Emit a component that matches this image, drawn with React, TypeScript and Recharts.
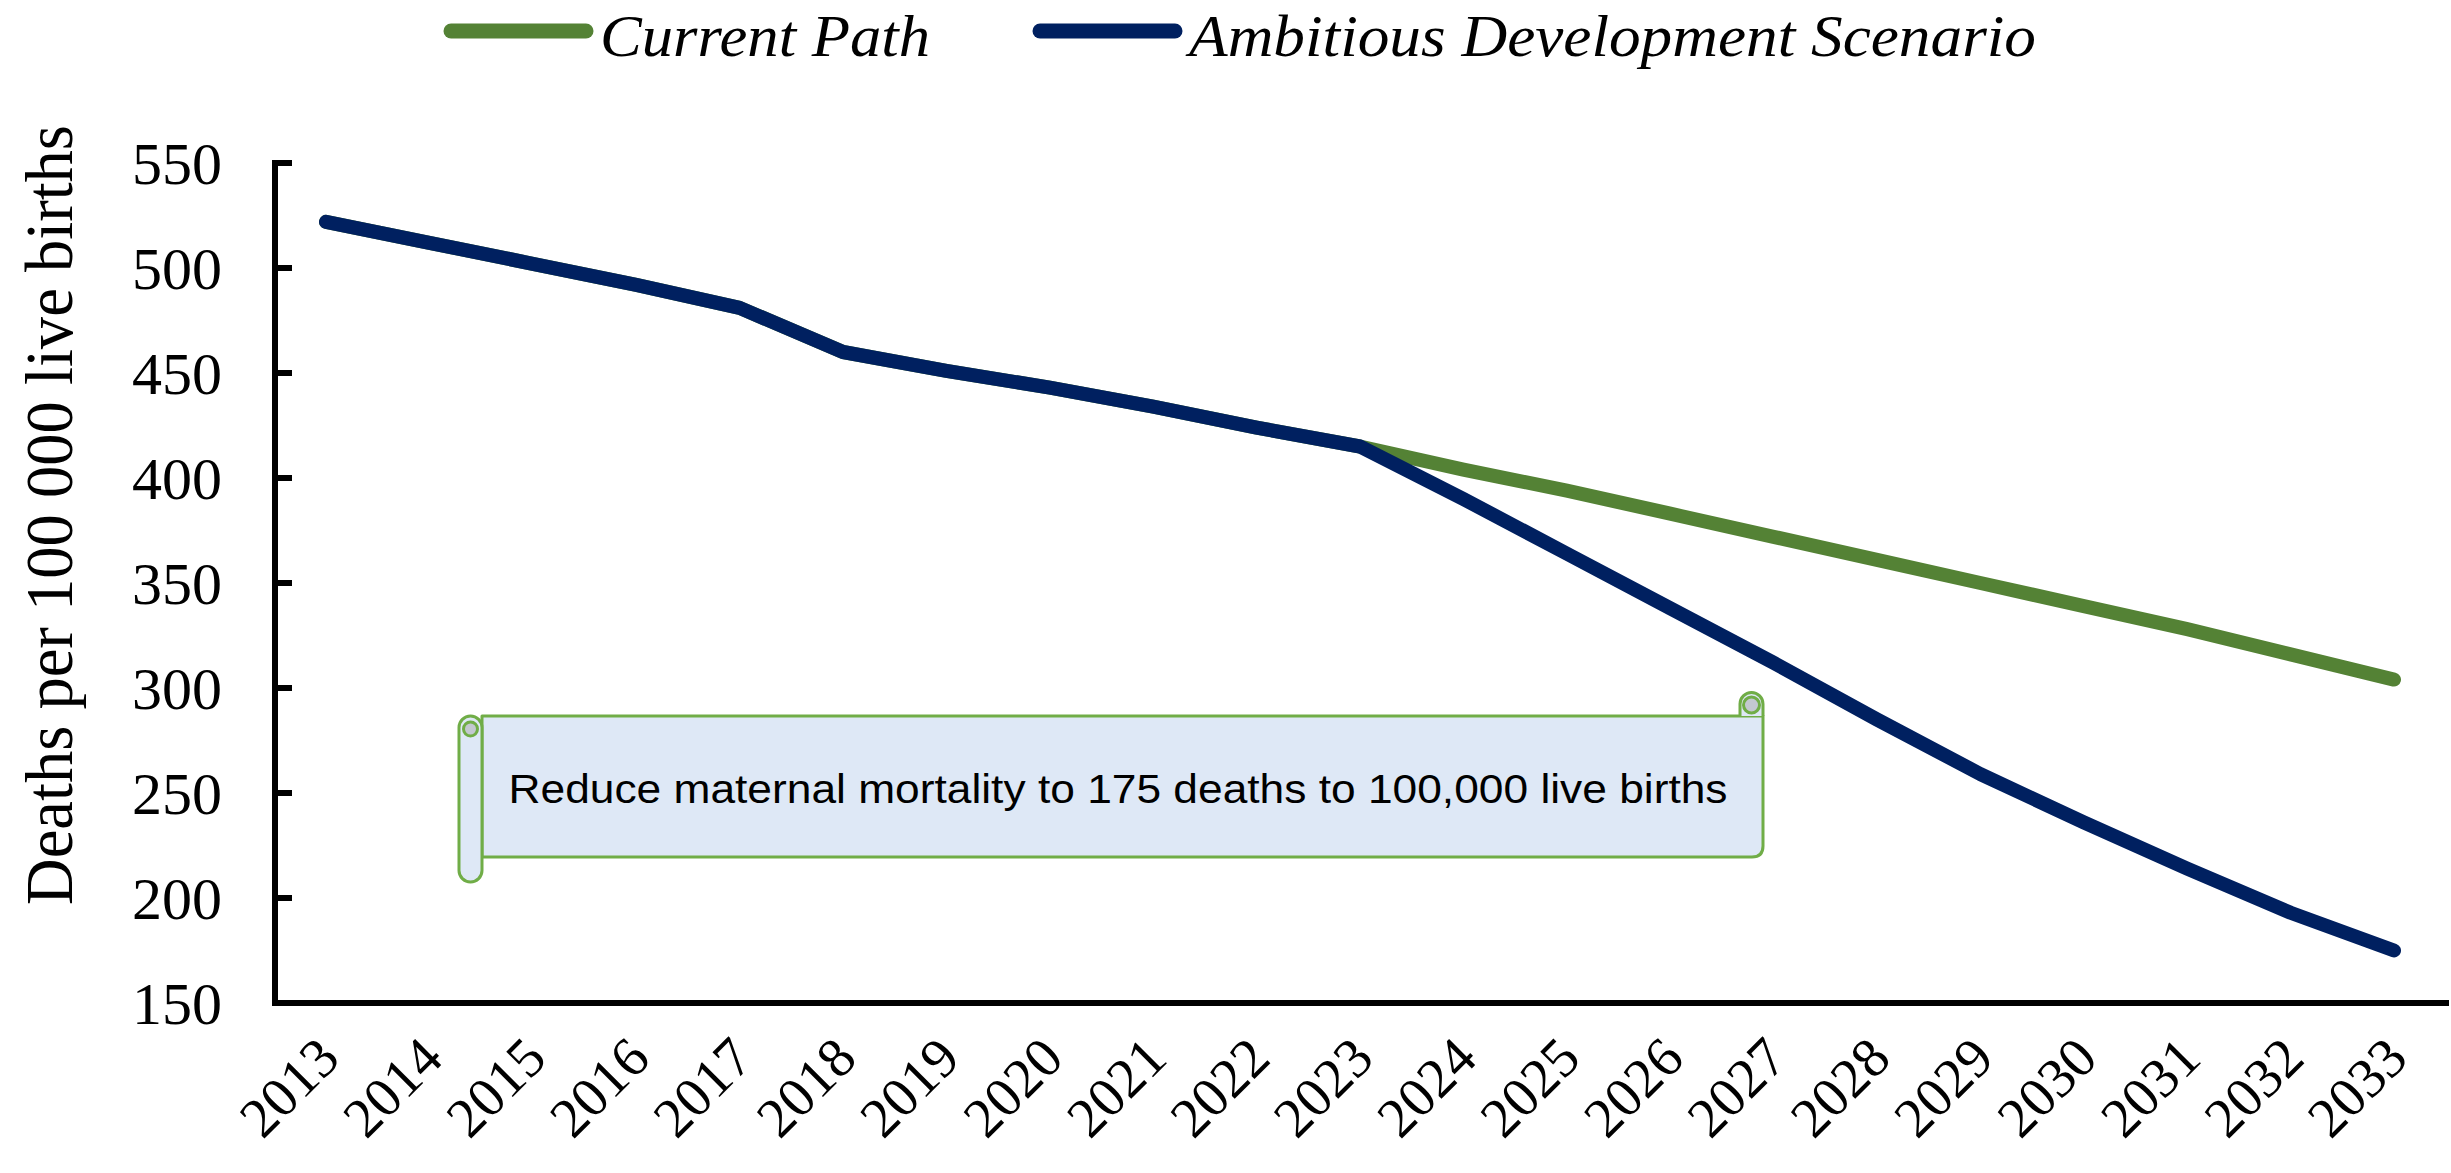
import { LineChart, Line, XAxis, YAxis } from 'recharts';

const years = [
  '2013', '2014', '2015', '2016', '2017', '2018', '2019', '2020', '2021', '2022', '2023',
  '2024', '2025', '2026', '2027', '2028', '2029', '2030', '2031', '2032', '2033',
];
const currentPath = [522, 512, 502, 492, 481, 460, 451, 443, 434, 424, 415, 404, 394, 383, 372, 361, 350, 339, 328, 316, 304];
const ambitious = [522, 512, 502, 492, 481, 460, 451, 443, 434, 424, 415, 390, 364, 338, 312, 285, 259, 236, 214, 193, 175];
const yTicks = [150, 200, 250, 300, 350, 400, 450, 500, 550];

const seriesKeys = ['current', 'ambitious'];
const seriesNames = ['Current Path', 'Ambitious Development Scenario'];
const seriesColors = ['#548235', '#002060'];

const yTitle = 'Deaths per 100 000 live births';
const note = 'Reduce maternal mortality to 175 deaths to 100,000 live births';

const data = years.map((year, i) => ({ year, current: currentPath[i], ambitious: ambitious[i] }));

const serif = '"Liberation Serif", "Times New Roman", serif';
const sans = '"Liberation Sans", Arial, sans-serif';

function YTick({ x, y, payload }: any) {
  return (
    <g>
      <line x1={x} x2={x + 17} y1={y} y2={y} stroke="#000" strokeWidth={6} />
      <text x={x - 53} y={y} dy="0.35em" textAnchor="end" fontFamily={serif} fontSize={60} fill="#000">
        {payload.value}
      </text>
    </g>
  );
}

function XTick({ x, y, payload }: any) {
  const ax = x + 16;
  const ay = y + 58;
  return (
    <text x={ax} y={ay} transform={`rotate(-45 ${ax} ${ay})`} textAnchor="end" fontFamily={serif} fontSize={56} fill="#000">
      {payload.value}
    </text>
  );
}

// legend item left edges (swatch start), px
const legendX = [443, 1032];

function Overlay() {
  return (
    <svg width={2451} height={1173} style={{ position: 'absolute', left: 0, top: 0, pointerEvents: 'none' }}>
      {seriesNames.map((name, i) => (
        <g key={name}>
          <line x1={legendX[i] + 8} x2={legendX[i] + 143} y1={31} y2={31} stroke={seriesColors[i]} strokeWidth={15} strokeLinecap="round" />
          <text x={legendX[i] + 157} y={56} fontFamily={serif} fontStyle="italic" fontSize={60}
            textLength={i === 0 ? 330 : 847} lengthAdjust="spacingAndGlyphs" fill="#000">{name}</text>
        </g>
      ))}

      <text x={72} y={515} transform="rotate(-90 72 515)" textAnchor="middle" fontFamily={serif} fontSize={68}
        textLength={780} lengthAdjust="spacingAndGlyphs" fill="#000">
        {yTitle}
      </text>

      {/* horizontal scroll callout */}
      <g stroke="#70ad47" strokeWidth={3} strokeLinejoin="round">
        <path d="M482 716 H1763 V846 Q1763 857 1752 857 H482 Z" fill="#dee8f6" />
        <path d="M1740 716 V704 A11.5 11.5 0 0 1 1763 704 V716" fill="#dee8f6" />
        <circle cx={1751.5} cy={705} r={8} fill="#c3c8d0" />
        <rect x={459} y={716} width={23} height={166} rx={11.5} fill="#dee8f6" />
        <circle cx={470.5} cy={729} r={7} fill="#c3c8d0" />
      </g>
      <text x={1118} y={803} textAnchor="middle" fontFamily={sans} fontSize={40} textLength={1219}
        lengthAdjust="spacingAndGlyphs" fill="#000">
        {note}
      </text>
    </svg>
  );
}

export default function App() {
  return (
    <div style={{ position: 'absolute', left: 0, top: 0, width: 2451, height: 1173, background: '#fff' }}>
      <LineChart width={2451} height={1173} data={data} margin={{ top: 163, right: 5, left: 0, bottom: 0 }}>
        <XAxis
          dataKey="year"
          height={170}
          interval={0}
          padding={{ left: 51, right: 52 }}
          axisLine={{ stroke: '#000', strokeWidth: 6, strokeLinecap: 'square' }}
          tickLine={false}
          tickSize={0}
          tickMargin={0}
          tick={(p: any) => <XTick {...p} />}
        />
        <YAxis
          domain={[150, 550]}
          ticks={yTicks}
          interval={0}
          width={275}
          axisLine={{ stroke: '#000', strokeWidth: 6, strokeLinecap: 'square' }}
          tickLine={false}
          tickSize={0}
          tickMargin={0}
          tick={(p: any) => <YTick {...p} />}
        />
        {seriesKeys.map((k, i) => (
          <Line
            key={k}
            type="linear"
            dataKey={k}
            name={seriesNames[i]}
            stroke={seriesColors[i]}
            strokeWidth={14}
            strokeLinecap="round"
            strokeLinejoin="round"
            dot={false}
            activeDot={false}
            isAnimationActive={false}
          />
        ))}
      </LineChart>
      <Overlay />
    </div>
  );
}
